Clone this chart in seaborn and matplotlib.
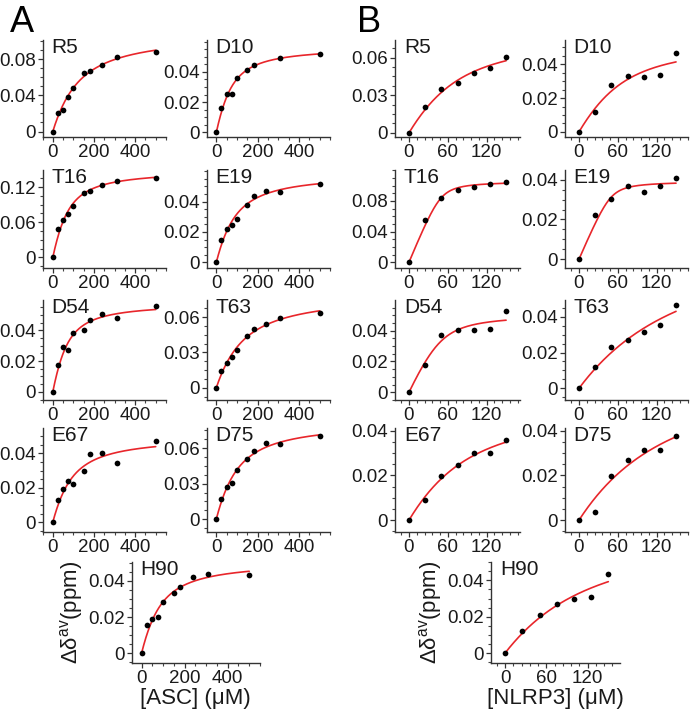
import numpy as np
import pandas as pd
import matplotlib
matplotlib.use("Agg")
import matplotlib.pyplot as plt
from matplotlib.ticker import FixedLocator, AutoMinorLocator
import seaborn as sns

# ---------------- data ----------------
asc_conc = [0, 25, 50, 75, 100, 150, 180, 240, 310, 500]      # [ASC] (uM)
nlrp3_conc = [0, 25, 50, 75, 100, 125, 150]                    # [NLRP3] (uM)

residues = ["R5", "D10", "T16", "E19", "D54", "T63", "E67", "D75", "H90"]

asc_R5 = [0, 0.0202, 0.0236, 0.0379, 0.0486, 0.0641, 0.0667, 0.0737, 0.0818, 0.0876]
asc_D10 = [0, 0.0164, 0.0256, 0.0256, 0.0361, 0.0413, 0.0442, np.nan, 0.0494, 0.0516]
asc_T16 = [0, 0.049, 0.0631, 0.0738, 0.0884, 0.110, 0.1138, 0.124, 0.131, 0.136]
asc_E19 = [0, 0.0150, 0.0222, 0.0248, 0.0287, 0.0378, 0.0437, 0.0470, 0.0463, 0.0515]
asc_D54 = [0, 0.0175, 0.0291, 0.0272, 0.0385, 0.0404, 0.0464, 0.0505, 0.0481, 0.0556]
asc_T63 = [0, 0.0144, 0.0211, 0.0262, 0.0324, 0.0437, 0.0496, 0.0538, 0.0594, 0.0639]
asc_E67 = [0, 0.0131, 0.0190, 0.0241, 0.0220, 0.0298, 0.0394, 0.0400, 0.0341, 0.0472]
asc_D75 = [0, 0.0174, 0.0274, 0.0303, 0.0417, 0.0506, 0.0574, 0.0643, 0.0637, 0.0700]
asc_H90 = [0, 0.0158, 0.0189, 0.0198, 0.0281, 0.0334, 0.0367, 0.0422, 0.0437, 0.0433]

nlrp3_R5 = [0, 0.0206, 0.0348, 0.0396, 0.0475, 0.0516, 0.0605]
nlrp3_D10 = [0, 0.0115, 0.0279, 0.0328, 0.0326, 0.0336, 0.0464]
nlrp3_T16 = [0, 0.055, 0.0844, 0.0941, 0.0981, 0.1025, 0.1051]
nlrp3_E19 = [0, 0.0225, 0.0302, 0.0369, 0.0339, 0.0366, 0.0410]
nlrp3_D54 = [0, 0.0179, 0.0370, 0.0404, 0.0404, 0.0409, 0.0530]
nlrp3_T63 = [0, 0.0117, 0.0229, 0.0268, 0.0316, 0.0353, 0.0463]
nlrp3_E67 = [0, 0.0091, 0.0196, 0.0246, 0.0299, 0.0300, 0.0360]
nlrp3_D75 = [0, 0.0037, 0.0199, 0.0268, 0.0312, 0.0312, 0.0375]
nlrp3_H90 = [0, 0.0121, 0.0208, 0.0270, 0.0300, 0.0309, 0.0434]

asc_data = [asc_R5, asc_D10, asc_T16, asc_E19, asc_D54, asc_T63, asc_E67, asc_D75, asc_H90]
nlrp3_data = [nlrp3_R5, nlrp3_D10, nlrp3_T16, nlrp3_E19, nlrp3_D54, nlrp3_T63,
              nlrp3_E67, nlrp3_D75, nlrp3_H90]

asc_yticks = [[0, 0.04, 0.08], [0, 0.02, 0.04], [0, 0.06, 0.12], [0, 0.02, 0.04],
              [0, 0.02, 0.04], [0, 0.03, 0.06], [0, 0.02, 0.04], [0, 0.03, 0.06],
              [0, 0.02, 0.04]]
nlrp3_yticks = [[0, 0.03, 0.06], [0, 0.02, 0.04], [0, 0.04, 0.08], [0, 0.02, 0.04],
                [0, 0.02, 0.04], [0, 0.02, 0.04], [0, 0.02, 0.04], [0, 0.02, 0.04],
                [0, 0.02, 0.04]]
asc_xticks = [0, 200, 400]
nlrp3_xticks = [0, 60, 120]

protein_conc = 50.0  # uM, labelled protein in the NMR sample (for the binding fit)

# ---------------- styling ----------------
sns.set_style("ticks")
plt.rcParams["font.family"] = ["Liberation Sans", "DejaVu Sans"]
plt.rcParams["mathtext.fontset"] = "custom"
plt.rcParams["mathtext.rm"] = "Liberation Sans"
plt.rcParams["mathtext.it"] = "Liberation Sans"

W, H = 693, 711
fig = plt.figure(figsize=(W / 100, H / 100), dpi=100)

TEXT = "#1a1a1a"
RED = "#e8262b"


def add_ax(l, t, r, b):
    return fig.add_axes([l / W, 1 - b / H, (r - l) / W, (b - t) / H])


def binding(L, P, Kd):
    s = P + L + Kd
    return (s - np.sqrt(s * s - 4 * P * L)) / (2 * P)


def fit_curve(x, y, xmax):
    x = np.asarray(x, float)
    y = np.asarray(y, float)
    m = ~np.isnan(y)
    x, y = x[m], y[m]
    best = None
    for kd in np.logspace(-1, 4, 3000):
        f = binding(x, protein_conc, kd)
        bmax = (f @ y) / (f @ f)
        sse = np.sum((y - bmax * f) ** 2)
        if best is None or sse < best[0]:
            best = (sse, kd, bmax)
    _, kd, bmax = best
    xs = np.linspace(0, xmax, 300)
    return xs, bmax * binding(xs, protein_conc, kd)


def fmt(v):
    return "0" if v == 0 else ("%g" % v)


def draw(ax, x, y, yt, xt, xlim, label, xmax):
    xs, ys = fit_curve(x, y, xmax)
    sns.lineplot(x=xs, y=ys, ax=ax, color=RED, lw=1.2, zorder=2)
    df = pd.DataFrame({"x": x, "y": y}).dropna()
    sns.scatterplot(data=df, x="x", y="y", ax=ax, color="black", s=17,
                    edgecolor="black", linewidth=0, zorder=3)
    ax.set_xlim(*xlim)
    ax.yaxis.set_major_locator(FixedLocator(yt))
    ax.set_yticklabels([fmt(v) for v in yt])
    ax.xaxis.set_major_locator(FixedLocator(xt))
    ax.set_xticklabels([str(v) for v in xt])
    ax.xaxis.set_minor_locator(AutoMinorLocator(4 if xt[-1] > 200 else 5))
    ax.yaxis.set_minor_locator(AutoMinorLocator(4))
    ax.set_xlabel("")
    ax.set_ylabel("")
    ax.text(0.07, 1.02, label, transform=ax.transAxes, ha="left", va="top",
            fontsize=15, color=TEXT)
    for s in ["top", "right"]:
        ax.spines[s].set_visible(False)
    for s in ["left", "bottom"]:
        ax.spines[s].set_color("#333333")
        ax.spines[s].set_linewidth(1.0)
    ax.tick_params(axis="both", which="major", length=3.5, width=0.9, color="#333333",
                   labelsize=13.5, labelcolor=TEXT, pad=1.5)
    ax.tick_params(axis="both", which="minor", length=2.5, width=0.8, color="#444444")


asc_ylims = [(-0.006, 0.101), (-0.003, 0.061), (-0.018, 0.149), (-0.0037, 0.0607),
             (-0.0053, 0.0597), (-0.0104, 0.0746), (-0.0057, 0.0547), (-0.0109, 0.0771),
             (-0.0055, 0.0505)]
nlrp3_ylims = [(-0.0033, 0.0741), (-0.003, 0.0543), (-0.0075, 0.1204), (-0.0044, 0.0449),
               (-0.005, 0.0599), (-0.0065, 0.0493), (-0.0053, 0.0412), (-0.0053, 0.0412),
               (-0.0055, 0.0501)]

rows = [(40, 137), (170, 268), (300, 400), (428, 532)]
colsA = [(42.5, 166, (-50, 550)), (207, 330, (-45, 550))]
colsB = [(395, 520, (-21.6, 171.5)), (565, 688, (-21.6, 168.5))]

for i in range(8):
    r, c = divmod(i, 2)
    t, b = rows[r]
    l, rr, xl = colsA[c]
    ax = add_ax(l, t, rr, b)
    draw(ax, asc_conc, asc_data[i], asc_yticks[i], asc_xticks, xl, residues[i], 500)
    ax.set_ylim(*asc_ylims[i])
    l, rr, xl = colsB[c]
    ax = add_ax(l, t, rr, b)
    draw(ax, nlrp3_conc, nlrp3_data[i], nlrp3_yticks[i], nlrp3_xticks, xl, residues[i], 150)
    ax.set_ylim(*nlrp3_ylims[i])

# H90 panels with axis labels
axA = add_ax(131.7, 562, 260, 663)
draw(axA, asc_conc, asc_data[8], asc_yticks[8], asc_xticks, (-46, 550), residues[8], 500)
axA.set_ylim(*asc_ylims[8])
axA.set_xlabel("[ASC] (\u03bcM)", fontsize=16, color=TEXT, labelpad=1)
axA.set_ylabel("\u0394\u03b4$^{\\mathrm{av}}$(ppm)", fontsize=16, color=TEXT, labelpad=2)

axB = add_ax(490.7, 562, 620, 663)
draw(axB, nlrp3_conc, nlrp3_data[8], nlrp3_yticks[8], nlrp3_xticks, (-21, 167), residues[8], 150)
axB.set_ylim(*nlrp3_ylims[8])
axB.set_xlabel("[NLRP3] (\u03bcM)", fontsize=16, color=TEXT, labelpad=1)
axB.set_ylabel("\u0394\u03b4$^{\\mathrm{av}}$(ppm)", fontsize=16, color=TEXT, labelpad=2)

fig.text(10 / W, 1 - 5 / H, "A", fontsize=26, ha="left", va="top", color="black")
fig.text(357 / W, 1 - 5 / H, "B", fontsize=26, ha="left", va="top", color="black")

fig.savefig("out.png", dpi=100, facecolor="white")
